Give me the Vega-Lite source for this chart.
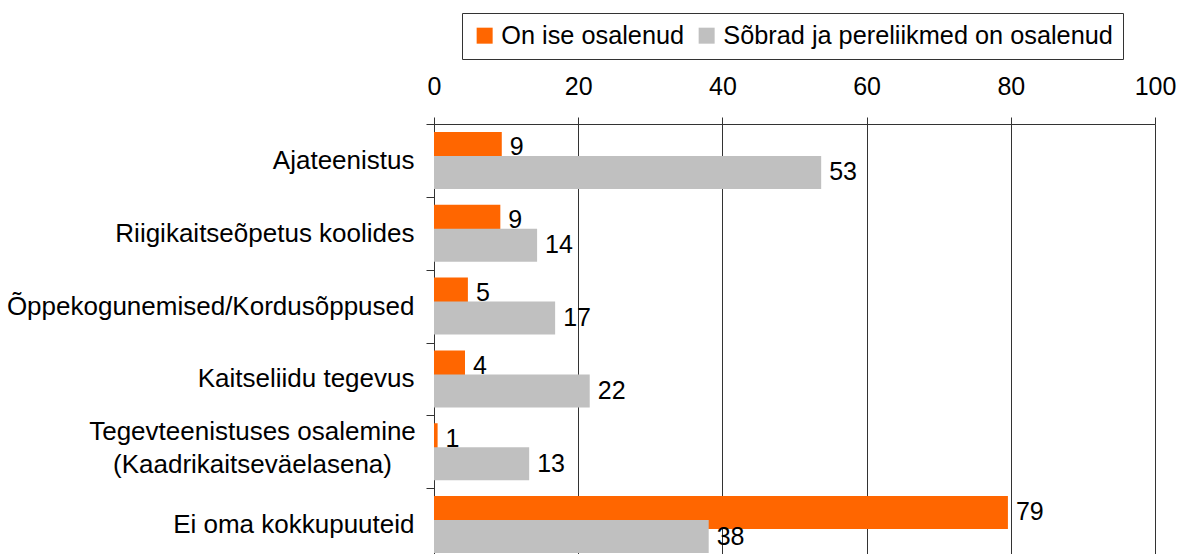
{
  "$schema": "https://vega.github.io/schema/vega-lite/v6.json",
  "autosize": {"type": "none"},
  "padding": {"left": 434, "top": 124, "right": 24, "bottom": 0},
  "width": 721,
  "height": 437,
  "background": "white",
  "config": {
    "view": {"stroke": null},
    "font": "Liberation Sans",
    "axis": {"labelFont": "Liberation Sans", "labelColor": "black"},
    "legend": {"labelFont": "Liberation Sans"}
  },
  "data": {
    "values": [
      {"cat": "Ajateenistus", "series": "On ise osalenud", "value": 9.4, "label": "9"},
      {"cat": "Ajateenistus", "series": "Sõbrad ja pereliikmed on osalenud", "value": 53.7, "label": "53"},
      {"cat": "Riigikaitseõpetus koolides", "series": "On ise osalenud", "value": 9.2, "label": "9"},
      {"cat": "Riigikaitseõpetus koolides", "series": "Sõbrad ja pereliikmed on osalenud", "value": 14.3, "label": "14"},
      {"cat": "Õppekogunemised/Kordusõppused", "series": "On ise osalenud", "value": 4.7, "label": "5"},
      {"cat": "Õppekogunemised/Kordusõppused", "series": "Sõbrad ja pereliikmed on osalenud", "value": 16.8, "label": "17"},
      {"cat": "Kaitseliidu tegevus", "series": "On ise osalenud", "value": 4.3, "label": "4"},
      {"cat": "Kaitseliidu tegevus", "series": "Sõbrad ja pereliikmed on osalenud", "value": 21.6, "label": "22"},
      {"cat": "Tegevteenistuses osalemine|(Kaadrikaitseväelasena)", "series": "On ise osalenud", "value": 0.5, "label": "1"},
      {"cat": "Tegevteenistuses osalemine|(Kaadrikaitseväelasena)", "series": "Sõbrad ja pereliikmed on osalenud", "value": 13.2, "label": "13"},
      {"cat": "Ei oma kokkupuuteid", "series": "On ise osalenud", "value": 79.6, "label": "79"},
      {"cat": "Ei oma kokkupuuteid", "series": "Sõbrad ja pereliikmed on osalenud", "value": 38.1, "label": "38"}
    ]
  },
  "encoding": {
    "y": {
      "field": "cat",
      "type": "nominal",
      "sort": null,
      "scale": {"paddingInner": 0, "paddingOuter": 0},
      "axis": {
        "title": null,
        "tickBand": "extent",
        "tickSize": 8,
        "tickColor": "#333",
        "domainColor": "#333",
        "labelFontSize": 26,
        "labelLimit": 600,
        "labelLineHeight": 33,
        "labelPadding": {"condition": {"test": "indexof(datum.label, '|') >= 0", "value": 174}, "value": 12},
        "labelAlign": {"condition": {"test": "indexof(datum.label, '|') >= 0", "value": "center"}, "value": "right"},
        "labelOffset": {"condition": {"test": "indexof(datum.label, '|') >= 0", "value": -20}, "value": 0},
        "labelExpr": "split(datum.label, '|')"
      }
    },
    "x": {
      "field": "value",
      "type": "quantitative",
      "scale": {"domain": [0, 100], "nice": false},
      "axis": {
        "orient": "top",
        "title": null,
        "values": [0, 20, 40, 60, 80, 100],
        "grid": true,
        "gridColor": "#333",
        "gridOpacity": 1,
        "tickColor": "#333",
        "domainColor": "#333",
        "tickSize": 7,
        "labelPadding": 18,
        "labelFontSize": 25,
        "labelFlush": false
      }
    }
  },
  "layer": [
    {
      "transform": [{"filter": "datum.series == 'On ise osalenud'"}],
      "mark": {"type": "bar", "height": 33, "yOffset": -12},
      "encoding": {
        "color": {
          "field": "series",
          "type": "nominal",
          "scale": {"domain": ["On ise osalenud", "Sõbrad ja pereliikmed on osalenud"], "range": ["#FF6600", "#C0C0C0"]},
          "legend": {
            "title": null,
            "orient": "none",
            "legendX": 28,
            "legendY": -111,
            "direction": "horizontal",
            "strokeColor": "#333",
            "fillColor": "white",
            "padding": 10,
            "symbolType": "square",
            "symbolSize": 256,
            "symbolStrokeWidth": 0,
            "labelFontSize": 25.3,
            "labelColor": "black",
            "labelOffset": 4,
            "columnPadding": 9,
            "labelLimit": 600
          }
        }
      }
    },
    {
      "transform": [{"filter": "datum.series != 'On ise osalenud'"}],
      "mark": {"type": "bar", "height": 33, "yOffset": 12},
      "encoding": {
        "color": {"field": "series", "type": "nominal"}
      }
    },
    {
      "transform": [{"filter": "datum.series == 'On ise osalenud'"}],
      "mark": {"type": "text", "align": "left", "baseline": "middle", "dx": 8, "yOffset": -13, "fontSize": 25, "color": "black"},
      "encoding": {"text": {"field": "label"}}
    },
    {
      "transform": [{"filter": "datum.series != 'On ise osalenud'"}],
      "mark": {"type": "text", "align": "left", "baseline": "middle", "dx": 8, "yOffset": 12, "fontSize": 25, "color": "black"},
      "encoding": {"text": {"field": "label"}}
    }
  ]
}
